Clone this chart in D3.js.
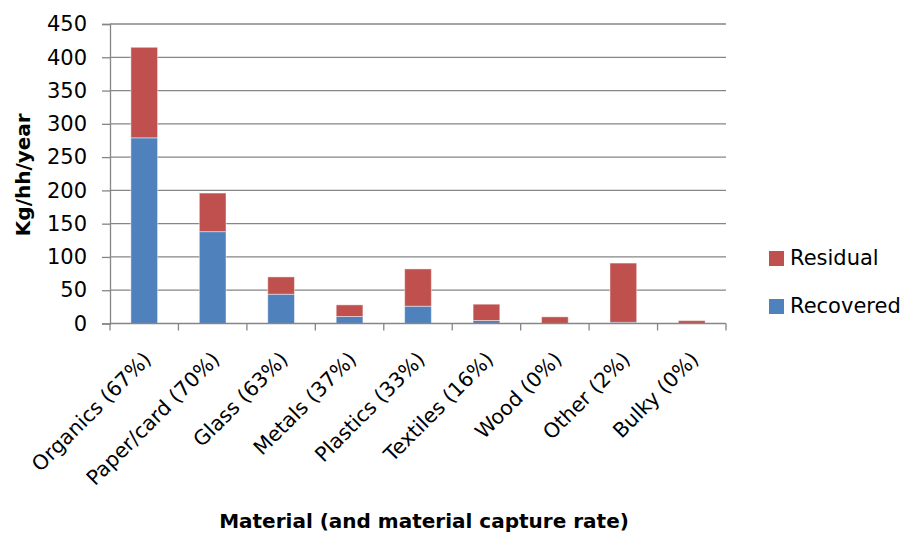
<!DOCTYPE html>
<html>
<head>
<meta charset="utf-8">
<script src="https://cdn.jsdelivr.net/npm/d3@7"></script>
<style>
	body { margin: 0; background: #fff; }
	text { font-family: "DejaVu Sans", sans-serif; fill: #000; }
</style>
</head>
<body>
<div id="svg-container"></div>
<script>
// DATA
const categories = ['Organics (67%)', 'Paper/card (70%)', 'Glass (63%)', 'Metals (37%)', 'Plastics (33%)',
	'Textiles (16%)', 'Wood (0%)', 'Other (2%)', 'Bulky (0%)'];
const recovered = [279, 138, 44, 10.5, 26, 4.5, 0, 1.8, 0];
const residual = [136, 58, 26, 17.5, 56, 24.5, 10, 89, 4.3];
const yTicks = [0, 50, 100, 150, 200, 250, 300, 350, 400, 450];
const seriesNames = ['Recovered', 'Residual'];
const colors = { Recovered: '#4f81bd', Residual: '#c0504d' };

// chart dimension
const w = 906, h = 536;
const margin = { left: 110, right: 180, top: 24, bottom: 213 };

const svg = d3.select('#svg-container').append('svg')
	.attr('width', w)
	.attr('height', h);

// scales
const xScale = d3.scaleBand()
	.domain(categories)
	.range([margin.left, w - margin.right])
	.paddingInner(0.61)
	.paddingOuter(0.305);
const yScale = d3.scaleLinear()
	.domain([0, 450])
	.range([h - margin.bottom + 0.5, margin.top]);

// gridlines
svg.append('g')
	.selectAll('line')
	.data(yTicks.slice(1))
	.enter()
	.append('line')
	.attr('x1', margin.left)
	.attr('x2', w - margin.right)
	.attr('y1', d => yScale(d))
	.attr('y2', d => yScale(d))
	.attr('stroke', '#868686')
	.attr('stroke-width', 1.3);

// stacked bars
const table = categories.map((c, i) => ({ cat: c, Recovered: recovered[i], Residual: residual[i] }));
const stacked = d3.stack().keys(seriesNames)(table);

svg.append('g')
	.selectAll('g')
	.data(stacked)
	.enter()
	.append('g')
	.attr('fill', d => colors[d.key])
	.selectAll('rect')
	.data(d => d)
	.enter()
	.append('rect')
	.attr('x', d => xScale(d.data.cat))
	.attr('width', xScale.bandwidth())
	.attr('y', d => yScale(d[1]))
	.attr('height', d => Math.max(0, yScale(d[0]) - yScale(d[1])))
	.attr('stroke', 'rgba(255,255,255,0.45)')
	.attr('stroke-width', 1);

// axes
const yAxis = d3.axisLeft(yScale)
	.tickValues(yTicks)
	.tickSize(8)
	.tickPadding(15);
const yG = svg.append('g')
	.attr('transform', `translate(${margin.left},0)`)
	.call(yAxis);
yG.select('.domain').attr('stroke', '#868686').attr('stroke-width', 1.3);
yG.selectAll('.tick line').attr('stroke', '#868686').attr('stroke-width', 1.3);
yG.selectAll('.tick text')
	.attr('font-size', 21)
	.attr('font-family', '"DejaVu Sans", sans-serif');

// x axis: baseline plus boundary ticks
const step = xScale.step();
const x0 = margin.left;
const baseY = yScale(0);
const xG = svg.append('g');
xG.append('line')
	.attr('x1', x0).attr('x2', w - margin.right)
	.attr('y1', baseY).attr('y2', baseY)
	.attr('stroke', '#868686').attr('stroke-width', 1.3);
xG.selectAll('.bt')
	.data(d3.range(categories.length + 1))
	.enter()
	.append('line')
	.attr('x1', i => x0 + i * step).attr('x2', i => x0 + i * step)
	.attr('y1', baseY).attr('y2', baseY + 7)
	.attr('stroke', '#868686').attr('stroke-width', 1.3);

// category labels, rotated
xG.selectAll('.cl')
	.data(categories)
	.enter()
	.append('text')
	.attr('transform', d => `translate(${xScale(d) + xScale.bandwidth() / 2 - 2},${baseY + 27}) rotate(-45)`)
	.attr('text-anchor', 'end')
	.attr('dy', '0.7em')
	.attr('font-size', 20.5)
	.text(d => d);

// axis titles
svg.append('text')
	.attr('transform', `translate(30,${(yScale(0) + yScale(450)) / 2 + 1}) rotate(-90)`)
	.attr('text-anchor', 'middle')
	.attr('font-size', 20)
	.attr('font-weight', 'bold')
	.text('Kg/hh/year');
svg.append('text')
	.attr('x', 424)
	.attr('y', 528)
	.attr('text-anchor', 'middle')
	.attr('font-size', 20)
	.attr('font-weight', 'bold')
	.text('Material (and material capture rate)');

// legend
const legend = svg.append('g');
const legendItems = [{ key: 'Residual', y: 258 }, { key: 'Recovered', y: 306 }];
legend.selectAll('rect')
	.data(legendItems)
	.enter()
	.append('rect')
	.attr('x', 769).attr('y', d => d.y - 7)
	.attr('width', 15).attr('height', 15)
	.attr('fill', d => colors[d.key]);
legend.selectAll('text')
	.data(legendItems)
	.enter()
	.append('text')
	.attr('x', 790).attr('y', d => d.y)
	.attr('dy', '0.35em')
	.attr('font-size', 21)
	.text(d => d.key);
</script>
</body>
</html>
